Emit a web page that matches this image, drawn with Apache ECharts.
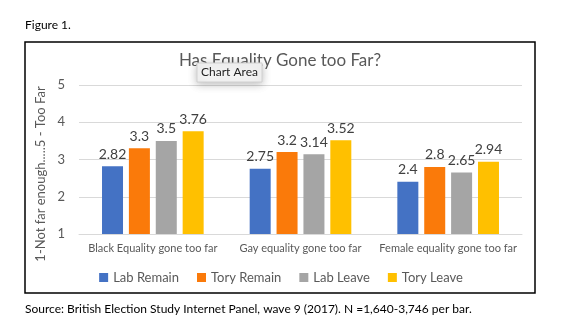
<!DOCTYPE html>
<html>
<head>
<meta charset="utf-8">
<script src="https://cdn.jsdelivr.net/npm/echarts@6/dist/echarts.min.js"></script>
<style>html,body{margin:0;padding:0;background:#fff;}#c{width:562px;height:330px;}</style>
</head>
<body>
<div id="c"></div>
<script>
const categories = ['Black Equality gone too far', 'Gay equality gone too far', 'Female equality gone too far'];
const labRemain = [2.82, 2.75, 2.4];
const toryRemain = [3.3, 3.2, 2.8];
const labLeave = [3.5, 3.14, 2.65];
const toryLeave = [3.76, 3.52, 2.94];
const yTicks = [1, 2, 3, 4, 5];
const seriesNames = ['Lab Remain', 'Tory Remain', 'Lab Leave', 'Tory Leave'];
const colors = ['#4472C4', '#FA7A0A', '#A5A5A5', '#FFC000'];

const FONT = 'Lato, "Open Sans", sans-serif';
const chart = echarts.init(document.getElementById('c'), null, {renderer: 'canvas'});
const mk = (name, data, i) => ({
  name, type: 'bar', data, barWidth: 21, barGap: '28%',
  itemStyle: {color: colors[i]},
  label: {show: true, position: 'top', distance: 5, color: '#404040', fontSize: 14, fontFamily: FONT,
    formatter: p => String(p.value)}
});
chart.setOption({
  backgroundColor: '#fff',
  animation: false,
  color: colors,
  grid: {left: 79, right: 40, top: 85, bottom: 96},
  xAxis: {
    type: 'category', data: categories,
    axisLine: {lineStyle: {color: '#d9d9d9'}},
    axisTick: {show: false},
    axisLabel: {color: '#595959', fontSize: 11, fontFamily: FONT, margin: 9, interval: 0, hideOverlap: false}
  },
  yAxis: {
    type: 'value', min: 1, max: 5, interval: 1,
    axisLine: {show: false}, axisTick: {show: false},
    axisLabel: {color: '#595959', fontSize: 13, fontFamily: FONT, margin: 14,
      formatter: v => yTicks.includes(v) ? String(v) : ''},
    splitLine: {lineStyle: {color: '#d9d9d9'}}
  },
  legend: {
    data: seriesNames, top: 266, left: 'center', icon: 'rect',
    itemWidth: 9, itemHeight: 9, itemGap: 18,
    textStyle: {color: '#595959', fontSize: 13, fontFamily: FONT}
  },
  series: [mk(seriesNames[0], labRemain, 0), mk(seriesNames[1], toryRemain, 1),
           mk(seriesNames[2], labLeave, 2), mk(seriesNames[3], toryLeave, 3)],
  graphic: [
    {type: 'text', left: 25, top: 19, style: {text: 'Figure 1.', fill: '#000', font: '12px ' + FONT}},
    {type: 'rect', shape: {x: 25, y: 42, width: 510, height: 251}, style: {fill: 'none', stroke: '#000', lineWidth: 1.5}, z: 10},
    {type: 'text', left: 25, top: 303, style: {text: 'Source: British Election Study Internet Panel, wave 9 (2017). N =1,640-3,746 per bar.', fill: '#000', font: '12px ' + FONT}},
    {type: 'text', x: 280, y: 61, style: {text: 'Has Equality Gone too Far?', fill: '#595959', font: '17px ' + FONT, align: 'center', verticalAlign: 'middle'}},
    {type: 'text', x: 41, y: 174, rotation: Math.PI / 2, style: {text: '1-Not far enough.....5 - Too Far', fill: '#595959', font: '13px ' + FONT, align: 'center', verticalAlign: 'middle'}},
    {type: 'rect', shape: {x: 197, y: 63, width: 65, height: 19}, z: 20,
      style: {fill: '#f4f4f4', stroke: '#d0d0d0', lineWidth: 1, shadowBlur: 8, shadowColor: 'rgba(0,0,0,0.25)', shadowOffsetY: 2}},
    {type: 'text', x: 229.5, y: 72.5, z: 21, style: {text: 'Chart Area', fill: '#222', font: '12px ' + FONT, align: 'center', verticalAlign: 'middle'}}
  ]
});
</script>
</body>
</html>
